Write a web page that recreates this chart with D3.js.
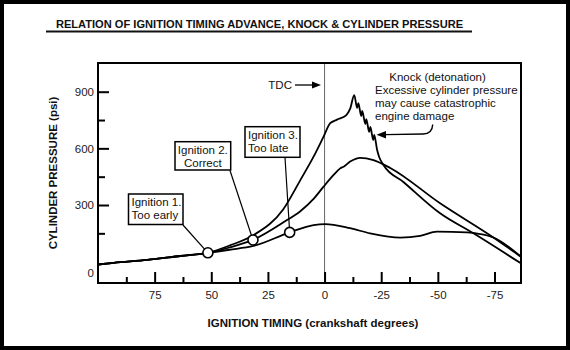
<!DOCTYPE html>
<html>
<head>
<meta charset="utf-8">
<script src="https://cdn.jsdelivr.net/npm/d3@7"></script>
<style>
  html, body { margin: 0; padding: 0; background: #fff; }
  svg { display: block; font-family: "Liberation Sans", Arial, Helvetica, sans-serif; }
</style>
</head>
<body>
<svg id="chart" width="570" height="350"></svg>
<script>
// ---- data (ignition timing in crankshaft degrees, cylinder pressure in psi) ----
const commonStart = [[100, -15], [93, -6], [78.3, 9], [63.6, 30], [51.5, 47]];

const earlyIgnition = [[42, 85], [31.3, 141], [18.2, 278], [10.7, 432], [4.85, 556], [0.44, 662],
  [-2.5, 733], [-5.5, 752], [-9.5, 775], [-11.3, 810], [-13.1, 882],
  [-14.4, 814], [-14.9, 840], [-16.2, 771], [-16.6, 798], [-18.0, 729], [-18.4, 755],
  [-19.7, 687], [-20.2, 713], [-21.5, 644], [-21.9, 671], [-23.2, 591], [-24.1, 554],
  [-26.0, 512], [-34.8, 422], [-51.0, 256], [-65.7, 150], [-86.7, -9]];

const correctIgnition = [[42, 75], [31.6, 115], [16.6, 220], [10.7, 267], [4.85, 332], [0.44, 397],
  [-4, 459], [-6.9, 494], [-8.4, 503], [-11.3, 530], [-15.7, 550], [-21.6, 538],
  [-29.0, 496], [-51.0, 309], [-74.5, 128], [-86.7, 26]];

const lateIgnition = [[42, 63], [31.4, 83], [15.4, 155], [4.85, 194], [-0.3, 199], [-11.3, 177],
  [-20.1, 150], [-33.4, 127], [-42.2, 136], [-49.6, 159], [-62.8, 155], [-68.7, 146],
  [-74.5, 128], [-86.7, 26]];

const ignitionPoints = [
  { deg: 51.5, psi: 47, lines: ["Ignition 1.", "Too early"] },
  { deg: 31.6, psi: 115, lines: ["Ignition 2.", "Correct"] },
  { deg: 15.4, psi: 155, lines: ["Ignition 3.", "Too late"] }
];

const xMajorTicks = [75, 50, 25, 0, -25, -50, -75];
const xMinorTicks = [87.5, 62.5, 37.5, 12.5, -12.5, -37.5, -62.5];
const yMajorTicks = [300, 600, 900];
const yMinorTicks = [150, 450, 750];
const yZeroLabel = "0";

const titleText = "RELATION OF IGNITION TIMING ADVANCE, KNOCK & CYLINDER PRESSURE";
const xTitle = "IGNITION TIMING (crankshaft degrees)";
const yTitle = "CYLINDER PRESSURE (psi)";
const knockLines = ["Knock (detonation)", "Excessive cylinder pressure", "may cause catastrophic", "engine damage"];

// ---- drawing ----
const svg = d3.select("#chart");
const plot = { left: 98, right: 521, top: 63, bottom: 283 };

const x = d3.scaleLinear().domain([100, -86.7]).range([plot.left, plot.right]);
const y = d3.scaleLinear().domain([-113, 1052]).range([plot.bottom, plot.top]);

// outer frame
svg.append("rect").attr("x", 2).attr("y", 2).attr("width", 566).attr("height", 346)
  .attr("fill", "#fff").attr("stroke", "#000").attr("stroke-width", 4);

// title
svg.append("text").attr("x", 259.5).attr("y", 27.5).attr("text-anchor", "middle")
  .attr("font-size", 11.1).attr("font-weight", "bold").attr("fill", "#111")
  .text(titleText);
svg.append("line").attr("x1", 46).attr("x2", 472).attr("y1", 31.5).attr("y2", 31.5)
  .attr("stroke", "#111").attr("stroke-width", 2);

// TDC vertical line
svg.append("line").attr("x1", x(0)).attr("x2", x(0)).attr("y1", plot.top).attr("y2", plot.bottom)
  .attr("stroke", "#666").attr("stroke-width", 1);

// axes
const xAxisMajor = d3.axisBottom(x).tickValues(xMajorTicks).tickSizeInner(-11).tickSizeOuter(0)
  .tickPadding(8).tickFormat(d => String(d));
const xAxisMinor = d3.axisBottom(x).tickValues(xMinorTicks).tickSizeInner(-6).tickSizeOuter(0).tickFormat("");
const gx = svg.append("g").attr("transform", `translate(0,${plot.bottom})`).call(xAxisMajor);
const gx2 = svg.append("g").attr("transform", `translate(0,${plot.bottom})`).call(xAxisMinor);

const yAxisMajor = d3.axisLeft(y).tickValues(yMajorTicks).tickSizeInner(-11).tickSizeOuter(0)
  .tickPadding(4).tickFormat(d => String(d));
const yAxisMinor = d3.axisLeft(y).tickValues(yMinorTicks).tickSizeInner(-7).tickSizeOuter(0).tickFormat("");
const gy = svg.append("g").attr("transform", `translate(${plot.left},0)`).call(yAxisMajor);
const gy2 = svg.append("g").attr("transform", `translate(${plot.left},0)`).call(yAxisMinor);

[gx, gx2, gy, gy2].forEach(g => {
  g.select(".domain").remove();
  g.selectAll(".tick line").attr("stroke", "#000").attr("stroke-width", 2);
  g.selectAll(".tick text").attr("font-size", 11.5).attr("fill", "#222")
    .attr("font-family", "'Liberation Sans', Arial, sans-serif");
});

svg.append("text").attr("x", plot.left - 4).attr("y", y(0) + 11).attr("dy", "0.35em")
  .attr("text-anchor", "end").attr("font-size", 11.5).attr("fill", "#222").text(yZeroLabel);

// plot frame
svg.append("rect").attr("x", plot.left).attr("y", plot.top)
  .attr("width", plot.right - plot.left).attr("height", plot.bottom - plot.top)
  .attr("fill", "none").attr("stroke", "#000").attr("stroke-width", 2);

// axis titles
svg.append("text").attr("x", 313).attr("y", 327).attr("text-anchor", "middle")
  .attr("font-size", 11.5).attr("font-weight", "bold").attr("fill", "#111").text(xTitle);
svg.append("text").attr("transform", "translate(57,173) rotate(-90)").attr("text-anchor", "middle")
  .attr("font-size", 11.5).attr("font-weight", "bold").attr("fill", "#111").text(yTitle);

// curves
const line = d3.line().x(d => x(d[0])).y(d => y(d[1])).curve(d3.curveMonotoneX);
[earlyIgnition, correctIgnition, lateIgnition].forEach(s => {
  svg.append("path").datum(commonStart.concat(s)).attr("d", line)
    .attr("fill", "none").attr("stroke", "#000").attr("stroke-width", 1.8)
    .attr("stroke-linejoin", "round");
});

// callouts
const boxes = [
  { x: 128.5, y: 194, w: 54.5, h: 30.5, lx: 183, ly: 225, anchor: "start", tx: 131.5 },
  { x: 175, y: 141.7, w: 55.7, h: 28.3, lx: 230, ly: 170.5, anchor: "middle", tx: 202.8 },
  { x: 245, y: 126.7, w: 55, h: 30.6, lx: 285, ly: 157.3, anchor: "start", tx: 248 }
];
ignitionPoints.forEach((p, i) => {
  const b = boxes[i];
  svg.append("line").attr("x1", b.lx).attr("y1", b.ly).attr("x2", x(p.deg)).attr("y2", y(p.psi))
    .attr("stroke", "#000").attr("stroke-width", 1.2);
  svg.append("rect").attr("x", b.x).attr("y", b.y).attr("width", b.w).attr("height", b.h)
    .attr("fill", "#fff").attr("stroke", "#000").attr("stroke-width", 1.5);
  p.lines.forEach((t, j) => {
    svg.append("text").attr("x", b.tx).attr("y", b.y + 12.3 + j * 12.7)
      .attr("text-anchor", b.anchor).attr("font-size", 11.5).attr("fill", "#111").text(t);
  });
  svg.append("circle").attr("cx", x(p.deg)).attr("cy", y(p.psi)).attr("r", 5)
    .attr("fill", "#fff").attr("stroke", "#000").attr("stroke-width", 1.6);
});

// TDC label + arrow
svg.append("text").attr("x", 268.3).attr("y", 89.3).attr("font-size", 11.5).attr("fill", "#111").text("TDC");
svg.append("line").attr("x1", 295).attr("x2", 314).attr("y1", 85).attr("y2", 85)
  .attr("stroke", "#000").attr("stroke-width", 1.3);
svg.append("path").attr("d", "M321,85 L312,81.5 L312,88.5 Z").attr("fill", "#000");

// knock annotation
knockLines.forEach((t, j) => {
  svg.append("text")
    .attr("x", j === 0 ? 437.5 : 375).attr("y", 81 + j * 13.1)
    .attr("text-anchor", j === 0 ? "middle" : "start")
    .attr("font-size", 11.5).attr("fill", "#111").text(t);
});
svg.append("path").attr("d", "M432.7,124.5 C432.5,130 430,133.8 423,134 L385,134.6")
  .attr("fill", "none").attr("stroke", "#000").attr("stroke-width", 1.4);
svg.append("path").attr("d", "M376.5,134.7 L386,131 L386,138.4 Z").attr("fill", "#000");
</script>
</body>
</html>
